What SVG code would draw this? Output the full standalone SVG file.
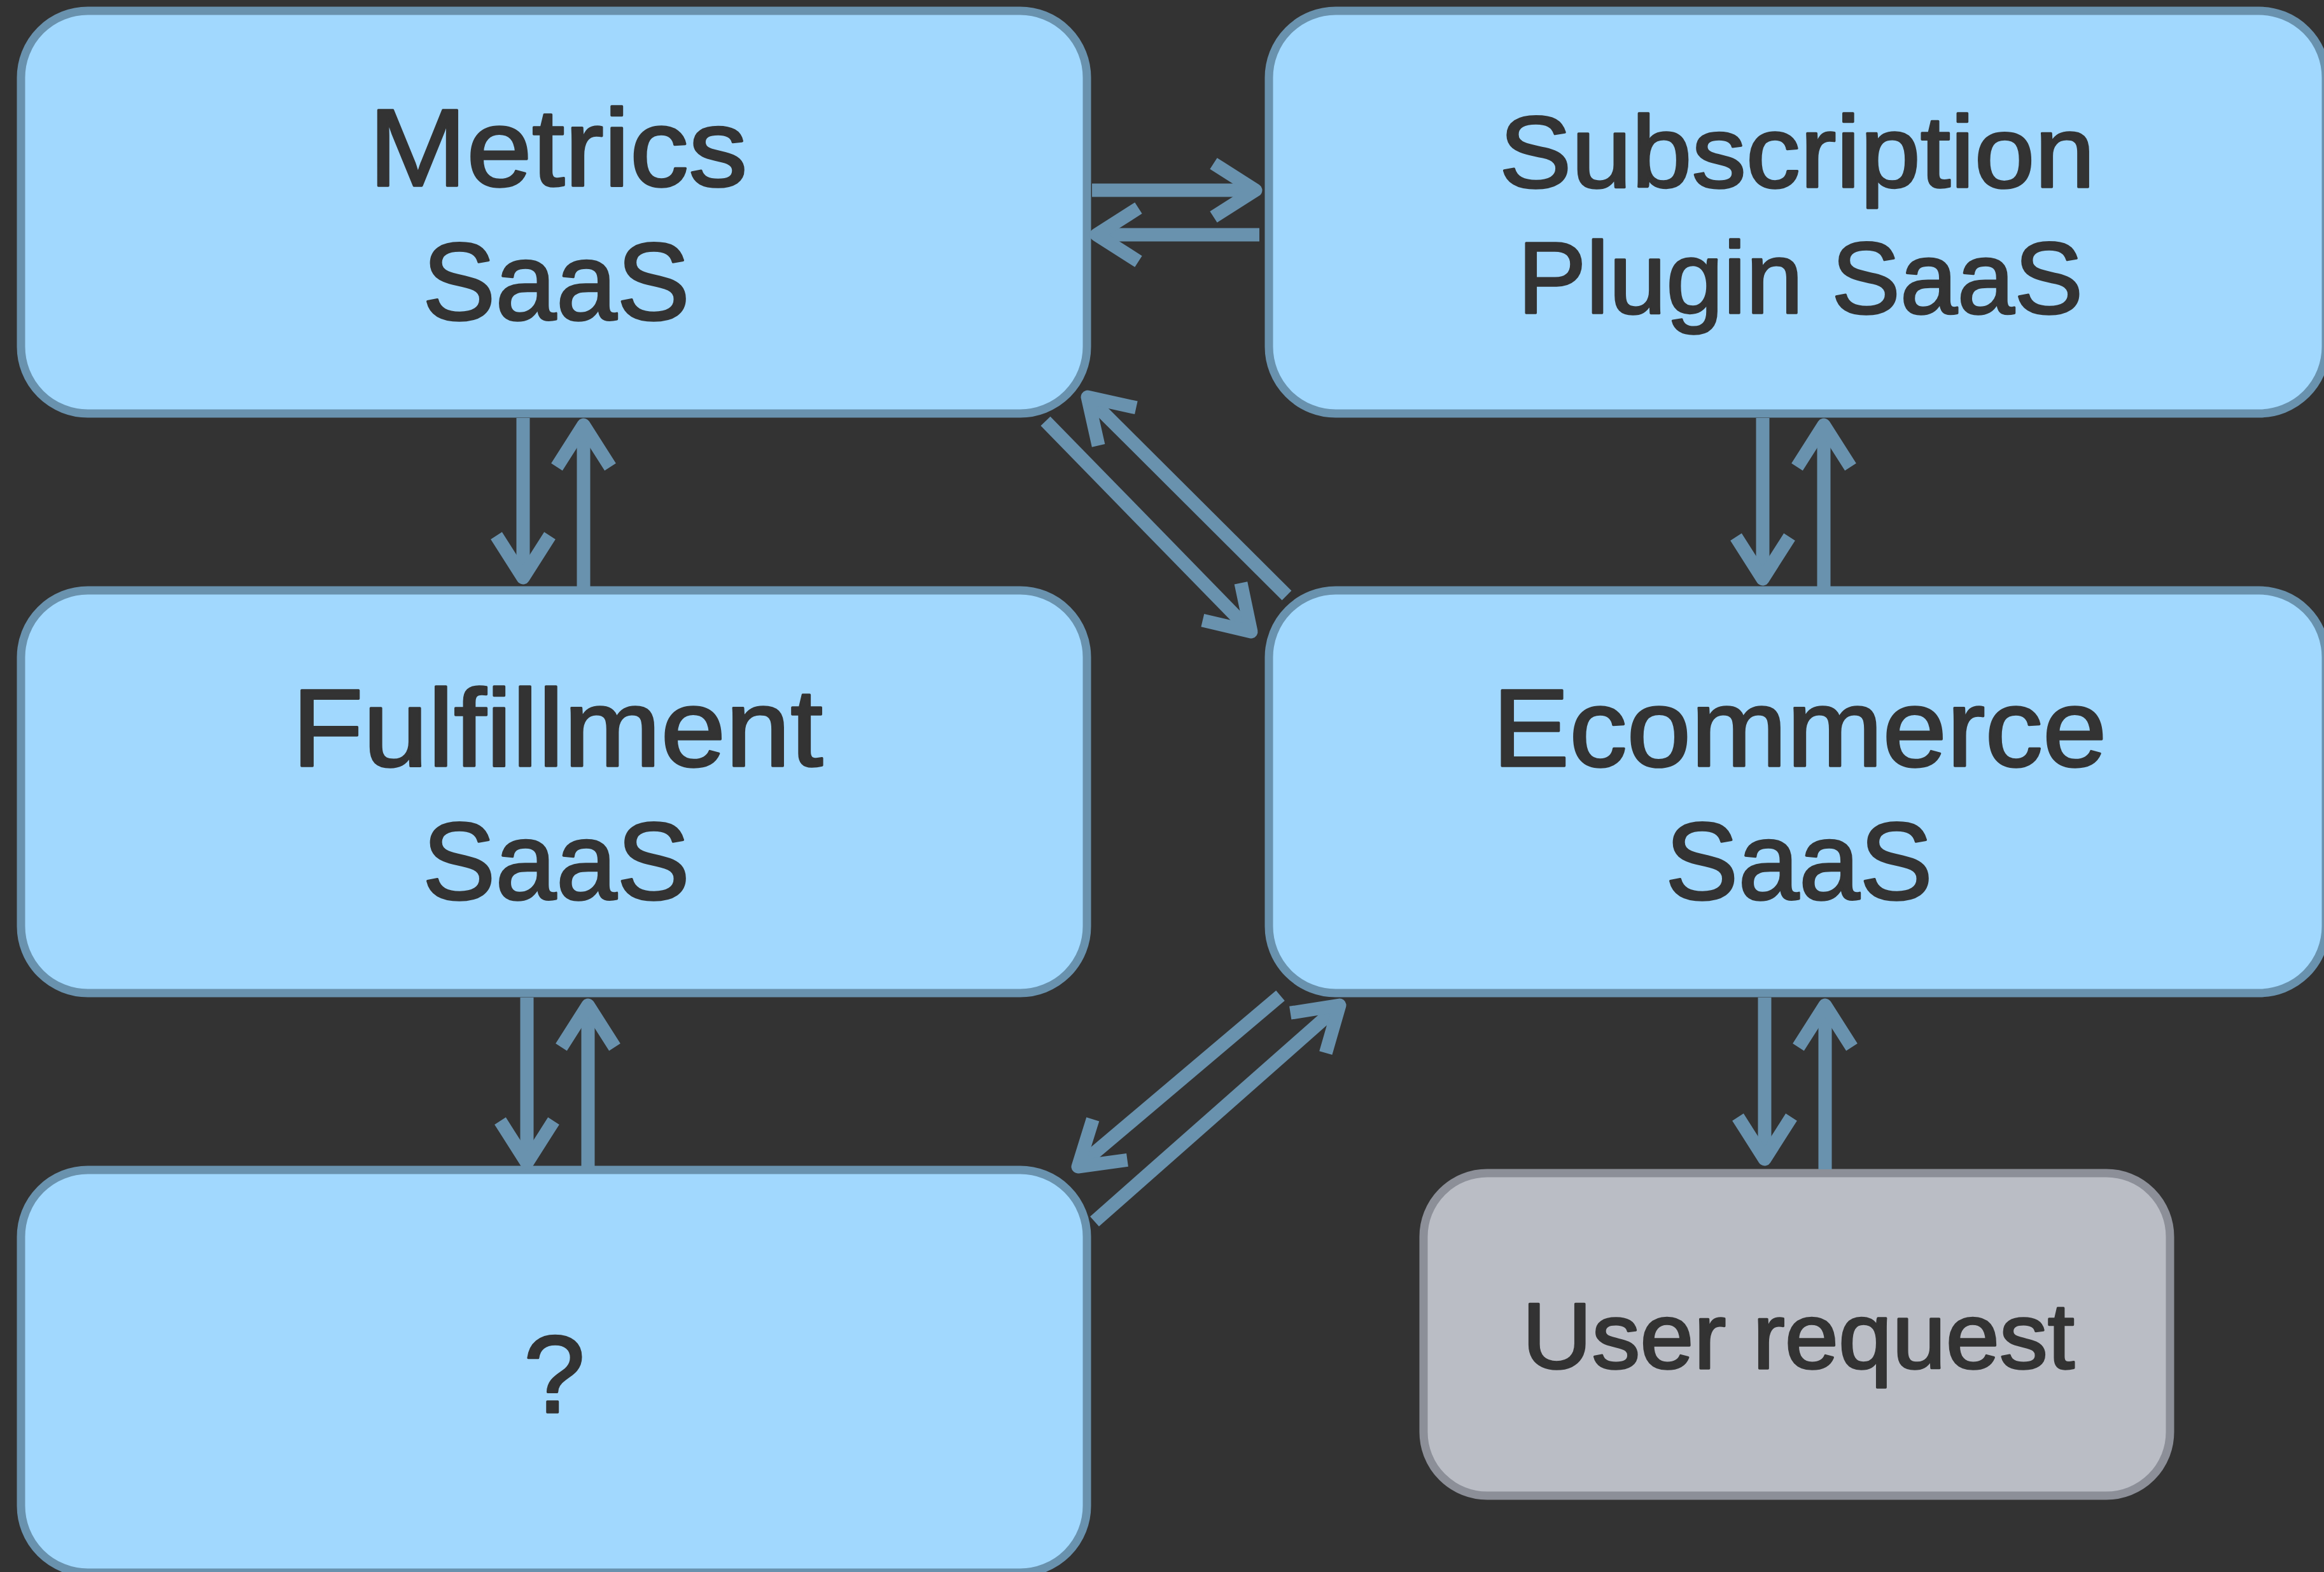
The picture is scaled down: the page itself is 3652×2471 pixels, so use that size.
<svg xmlns="http://www.w3.org/2000/svg" width="3652" height="2471" viewBox="0 0 3652 2471">
  <style>
    .node rect { fill: #a1d8fe; stroke: #6992ae; stroke-width: 13; }
    .gray rect { fill: #babdc5; stroke: #8c8f98; stroke-width: 13; }
    text { font-family: "Liberation Sans", Arial, Helvetica, sans-serif; fill: #333333; stroke: #333333; stroke-width: 3.5; stroke-linejoin: round; text-anchor: middle; }
    .big { font-size: 173px; }
    .mid { font-size: 160px; }
    .small { font-size: 147px; }
    .conn line { stroke: #6992ae; stroke-width: 21; stroke-linecap: butt; marker-end: url(#ah); }
  </style>
  <defs>
    <marker id="ah" markerUnits="userSpaceOnUse" viewBox="-100 -100 200 200" markerWidth="200" markerHeight="200" refX="0" refY="0" orient="auto" overflow="visible">
      <path d="M-66,-42 L0,0 L-66,42" fill="none" stroke="#6992ae" stroke-width="21" stroke-linejoin="round" stroke-linecap="butt"/>
    </marker>
  </defs>
  <rect x="0" y="0" width="3652" height="2471" fill="#333333"/>

  <g id="metrics" class="node">
    <rect x="33" y="17" width="1675" height="633" rx="105" ry="105"/>
    <text class="big" x="877" y="292" textLength="595" lengthAdjust="spacingAndGlyphs">Metrics</text>
    <text class="big" x="874" y="502" textLength="420" lengthAdjust="spacingAndGlyphs">SaaS</text>
  </g>

  <g id="subscription" class="node">
    <rect x="1994" y="17" width="1661" height="633" rx="105" ry="105"/>
    <text class="mid" x="2824" y="294" textLength="936" lengthAdjust="spacingAndGlyphs">Subscription</text>
    <text class="mid" x="2829" y="492" textLength="888" lengthAdjust="spacingAndGlyphs">Plugin SaaS</text>
  </g>

  <g id="fulfillment" class="node">
    <rect x="33" y="928" width="1675" height="633" rx="105" ry="105"/>
    <text class="big" x="876" y="1204" textLength="834" lengthAdjust="spacingAndGlyphs">Fulfillment</text>
    <text class="big" x="874" y="1413" textLength="420" lengthAdjust="spacingAndGlyphs">SaaS</text>
  </g>

  <g id="ecommerce" class="node">
    <rect x="1994" y="928" width="1661" height="633" rx="105" ry="105"/>
    <text class="big" x="2828" y="1204" textLength="965" lengthAdjust="spacingAndGlyphs">Ecommerce</text>
    <text class="big" x="2827" y="1413" textLength="420" lengthAdjust="spacingAndGlyphs">SaaS</text>
  </g>

  <g id="unknown" class="node">
    <rect x="33" y="1839" width="1675" height="633" rx="105" ry="105"/>
    <text class="big" x="871" y="2220">?</text>
  </g>

  <g id="user-request" class="gray">
    <rect x="2237" y="1844" width="1173" height="507" rx="100" ry="100"/>
    <text class="small" x="2826" y="2151" textLength="868" lengthAdjust="spacingAndGlyphs">User request</text>
  </g>

  <g id="connectors" class="conn">
    <line x1="1716" y1="299" x2="1973" y2="299"/>
    <line x1="1979" y1="369" x2="1723" y2="369"/>

    <line x1="822" y1="657" x2="822" y2="908"/>
    <line x1="917" y1="922" x2="917" y2="668"/>

    <line x1="2770" y1="657" x2="2770" y2="910"/>
    <line x1="2866" y1="922" x2="2866" y2="668"/>

    <line x1="2773" y1="1568" x2="2773" y2="1822"/>
    <line x1="2868" y1="1838" x2="2868" y2="1580"/>

    <line x1="828" y1="1568" x2="828" y2="1828"/>
    <line x1="924" y1="1838" x2="924" y2="1580"/>

    <line x1="1643" y1="662" x2="1966" y2="993"/>
    <line x1="2022" y1="936" x2="1709" y2="624"/>

    <line x1="2012" y1="1565" x2="1694" y2="1834"/>
    <line x1="1720" y1="1920" x2="2105" y2="1580"/>
  </g>
</svg>
